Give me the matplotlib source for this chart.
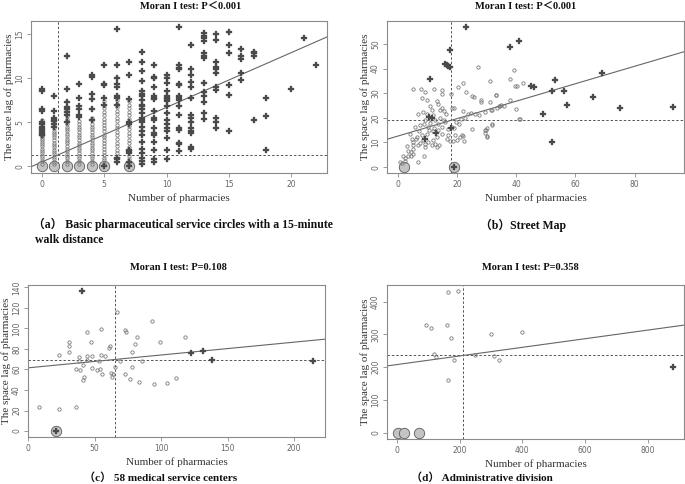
import matplotlib
matplotlib.use("Agg")
import matplotlib.pyplot as plt

SERIF = ['Liberation Serif', 'Noto Sans CJK SC']
CIRC_EDGE = '#7a7a7a'
DIAM_COL = '#4a4a4a'
BIG_FACE = '#c4c4c4'

# ---------- panel (a): 15-minute walk circles ----------
a_circ = {
    0: [0.3, 0.6, 0.9, 1.2, 1.5, 1.7, 2.0, 2.3, 2.5, 2.8, 3.0, 3.2, 3.4, 3.6, 3.9, 4.1, 4.4, 4.6, 4.9, 5.2],
    1: [0.3, 0.5, 0.8, 1.1, 1.4, 1.6, 1.9, 2.2, 2.4, 2.7, 3.0, 3.3, 3.5, 3.8, 4.0, 4.3, 4.6, 4.9],
    2: [0.3, 0.6, 0.9, 1.2, 1.4, 1.7, 2.0, 2.3, 2.6, 2.9, 3.1, 3.4, 3.7, 4.0, 4.2, 4.5, 4.8, 5.1, 5.4, 5.7, 6.0, 6.4],
    3: [0.3, 0.6, 0.9, 1.2, 1.5, 1.8, 2.1, 2.4, 2.7, 3.0, 3.3, 3.6, 3.9, 4.2, 4.5, 4.8, 5.1],
    4: [0.3, 0.6, 0.9, 1.2, 1.5, 1.8, 2.1, 2.4, 2.7, 3.0, 3.3, 3.6, 3.9, 4.2, 4.5, 4.8, 5.2, 5.5],
    5: [0.3, 0.7, 1.0, 1.3, 1.6, 2.0, 2.3, 2.6, 3.0, 3.3, 3.6, 4.0, 4.3, 4.7, 5.0, 5.4, 5.8, 6.2, 6.6, 7.0, 7.4],
    6: [1.5, 1.9, 2.3, 2.7, 3.1, 3.5, 3.9, 4.3, 4.7, 5.1, 5.5, 5.9, 6.3, 6.7, 7.1, 7.5, 8.0],
    7: [0.4, 0.8, 1.2, 2.2, 2.6, 3.0, 3.4, 3.8, 4.2, 4.6, 5.4, 5.8, 6.2, 6.6, 7.0, 7.4],
}
a_diam = {
    0: [8.8, 8.5, 6.5, 6.3, 5.0, 4.8, 4.5, 4.2, 4.0, 3.8, 3.6, 3.5],
    1: [8.0, 6.3, 5.5, 5.3, 5.1, 4.8, 4.5],
    2: [12.5, 8.8, 7.3, 6.7, 6.5, 6.2, 5.8, 5.0],
    3: [9.3, 7.7, 6.8, 6.5, 5.8, 5.6],
    4: [10.3, 10.1, 8.2, 7.6, 6.5, 5.3],
    5: [11.5, 9.3, 9.2, 7.7, 7.0, 0.0],
    6: [15.6, 11.5, 10.0, 9.3, 9.0, 8.0, 7.8, 7.0, 1.0, 0.8, 0.5],
    7: [11.8, 10.3, 7.6, 5.0, 4.8, 1.9, 1.7, 1.5, 0.5, 0.0],
    8: [13.0, 11.8, 10.8, 9.7, 8.5, 8.2, 8.0, 7.5, 7.0, 6.8, 6.5, 6.0, 5.5, 5.3, 5.0, 4.5, 4.0, 3.5, 2.8, 2.0, 1.5, 1.0, 0.6, 0.3],
    9: [11.5, 10.1, 10.0, 9.0, 8.0, 7.8, 7.6, 6.3, 5.5, 5.2, 4.3, 3.8, 3.5, 2.8, 1.8, 0.8, 0.5],
    10: [10.3, 10.0, 9.5, 8.5, 8.0, 7.8, 7.6, 7.4, 6.8, 6.0, 5.2, 4.8, 4.3, 4.0, 3.2, 1.8, 0.8],
    11: [15.8, 11.5, 11.2, 11.0, 9.3, 9.2, 8.0, 7.7, 7.5, 6.8, 5.8, 4.3, 4.1, 2.7, 2.5, 1.7],
    12: [13.8, 11.0, 10.3, 9.6, 9.0, 7.8, 5.8, 5.5, 5.0, 4.3, 4.0, 3.8, 2.2, 2.0],
    13: [15.1, 14.8, 14.5, 14.2, 12.8, 12.5, 12.3, 9.5, 8.4, 8.0, 7.3, 6.1, 5.4],
    14: [15.0, 14.3, 11.8, 11.3, 11.0, 10.6, 9.0, 8.7, 5.5, 5.0, 4.3],
    15: [15.2, 13.7, 12.8, 9.2, 8.1, 4.0],
    16: [13.3, 12.5, 12.2, 10.6, 9.8],
    17: [13.0, 12.8, 12.5, 5.2],
    18: [7.8, 5.7, 1.8],
    20: [8.8],
    21: [14.5],
    22: [11.5],
}
a_big_x = [0, 1, 2, 3, 4, 5, 7]
a_mean = (1.34, 1.32)
a_fit = (0.49, 0.62)

# ---------- panel (b): street map ----------
b_circ_x = [27.2, 39.1, 38.0, 42.2, 40.3, 22.1, 31.0, 20.2, 23.0, 5.1, 7.8, 9.1, 12.2, 15.0, 15.0, 17.8,
            25.0, 25.8, 28.1, 28.1, 31.0, 33.2, 38.0, 8.2, 9.7, 13.1, 13.7, 10.8, 14.8, 15.7, 14.2, 11.4,
            6.9, 9.9, 16.3, 18.2, 19.0, 22.1, 24.6, 26.1, 27.5, 29.5, 31.5, 34.5, 35.7, 41.3, 19.5, 21.3,
            22.7, 23.8, 9.1, 10.8, 12.5, 14.2, 15.7, 5.8, 7.4, 8.9, 10.2, 12.3, 13.7, 15.0, 17.0, 18.2,
            19.1, 19.3, 21.0, 22.1, 24.9, 29.5, 31.7, 29.5, 30.0, 4.1, 4.6, 6.3, 8.0, 9.7, 12.0, 13.1,
            14.8, 16.5, 17.6, 19.9, 21.6, 22.3, 5.0, 5.0, 5.0, 6.7, 7.4, 8.6, 9.1, 9.1, 10.2, 11.4,
            12.5, 13.1, 2.9, 3.3, 4.4, 5.2, 1.8, 2.4, 0.7, 1.5, 2.4, 3.5, 4.4, 6.9, 8.9, 39.7, 40.0,
            40.9, 33.0, 31.8, 30.1, 31.8, 33.5, 34.0, 35.0, 29.6, 30.0, 11.0, 12.0, 13.5, 16.0, 17.0,
            7.0, 8.5, 10.5, 11.8, 14.0, 6.0, 20.5, 18.5]
b_circ_y = [40.7, 39.6, 35.9, 34.1, 32.9, 34.1, 35.0, 32.5, 30.6, 31.8, 31.8, 30.5, 31.6, 31.4, 29.8, 29.5,
            28.7, 28.5, 27.1, 26.4, 26.4, 29.3, 27.4, 27.9, 27.1, 26.7, 25.7, 24.7, 24.1, 22.8, 23.0, 23.0,
            21.7, 21.7, 21.7, 24.1, 24.1, 22.8, 22.0, 21.7, 21.3, 22.4, 23.3, 24.7, 24.9, 19.5, 18.3, 19.5,
            20.1, 21.7, 19.0, 19.6, 19.0, 20.1, 19.0, 16.3, 16.9, 17.3, 16.3, 16.0, 14.9, 16.3, 15.6, 16.3,
            16.0, 12.9, 12.2, 12.6, 15.6, 15.2, 16.9, 13.8, 12.2, 13.6, 11.5, 12.2, 12.9, 13.6, 14.6, 12.2,
            13.6, 11.5, 10.6, 10.8, 12.9, 10.4, 10.2, 8.8, 7.5, 8.8, 9.8, 10.8, 9.5, 8.1, 10.2, 8.8,
            9.5, 8.1, 8.4, 6.4, 6.1, 5.4, 4.7, 3.8, 2.0, 1.6, 2.4, 4.3, 4.7, 2.0, 4.3, 33.0, 23.7,
            19.6, 29.4, 23.0, 12.5, 17.3, 24.0, 24.9, 25.0, 14.9, 15.9, 18.0, 21.0, 17.5, 18.5, 13.0,
            14.5, 22.5, 15.0, 11.0, 9.0, 11.5, 17.5, 10.5]
b_diam_x = [23, 41, 38, 17.5, 16, 16.5, 17, 17.5, 11, 45, 46, 53, 52, 56, 57, 66, 69, 75, 93, 49, 52,
            19, 10.5, 11.5, 9, 13, 18]
b_diam_y = [57, 51.3, 48.8, 47.7, 42, 41.5, 41, 40.5, 35.8, 33, 32.7, 35.2, 30.8, 31, 25.3, 28.3, 38.2,
            24, 24.2, 21.7, 10.2, 0, 20.5, 20, 11.5, 14, 16]
b_big_x = [2, 19]
b_mean = (18.0, 19.0)
b_fit = (12.6, 0.354)

# ---------- panel (c): 58 medical service centers ----------
c_circ_x = [8, 23.1, 35.9, 23.1, 30.9, 30.9, 30.9, 37.9, 37.9, 35.9, 39.2, 40.9, 40.9, 42.2, 43.9, 43.9,
            43.9, 46.9, 48.2, 48.2, 51.9, 52.9, 54.0, 55.0, 55.0, 55.7, 58.0, 60.5, 61.7, 62.2, 63.2, 64.0,
            65.0, 67.0, 69.3, 73.0, 73.5, 73.0, 76.8, 78.0, 78.0, 80.0, 82.0, 83.0, 85.3, 93.4, 94.4, 98.9,
            104.1, 110.9, 118.2]
c_circ_y = [23.3, 21.7, 23.3, 74.2, 87.2, 82.6, 76.8, 72.6, 68.7, 60.6, 59.6, 64.5, 49.3, 52.5, 73.2, 69.3,
            96.2, 86.5, 72.9, 61.9, 59.3, 68.7, 60.6, 74.2, 99.5, 55.1, 73.2, 80.7, 82.6, 56.7, 52.8, 55.7,
            62.2, 115.7, 68.0, 98.8, 96.9, 55.7, 50.9, 76.8, 62.2, 84.9, 91.7, 47.6, 68.4, 107.3, 46.0, 87.2,
            46.7, 51.5, 92.0]
c_diam_x = [40.2, 122.2, 131.2, 138.3, 214.6, 20.6]
c_diam_y = [136.7, 76.2, 78.4, 69.7, 68.4, 0]
c_big_x = [20.6]
c_mean = (65.0, 69.7)
c_fit = (61.6, 0.125)

# ---------- panel (d): administrative division ----------
d_circ_x = [163, 195, 93.7, 109.7, 158.7, 173.6, 118, 125.7, 181, 163, 301, 399, 311, 325, 248]
d_circ_y = [430.5, 432.5, 328, 321, 330, 289, 241, 231, 223, 159.5, 300.6, 308, 233, 223, 238]
d_diam_x = [880.7]
d_diam_y = [200.4]
d_big_x = [3, 21, 69]
d_mean = (212, 236)
d_fit = (208, 0.1315)


def style_axes(ax, xlim, ylim, xticks, yticks):
    ax.set_xlim(*xlim)
    ax.set_ylim(*ylim)
    ax.set_xticks(xticks)
    ax.set_yticks(yticks)
    for s in ['top', 'right', 'bottom', 'left']:
        ax.spines[s].set_color('#8a8a8a')
        ax.spines[s].set_linewidth(0.8)
    ax.tick_params(direction='out', length=3, width=0.6, colors='#8a8a8a',
                   labelsize=5.5, labelcolor='#666666', pad=2)
    for lab in ax.get_yticklabels():
        lab.set_rotation(90)
        lab.set_va('center')
    ax.set_xlabel('Number of pharmacies', family=SERIF, fontsize=8, color='#333333', labelpad=3)
    ax.set_ylabel('The space lag of pharmacies', family=SERIF, fontsize=8, color='#333333')
    ax.yaxis.label.set_va('center')
    ax.yaxis.set_label_coords(-0.075, 0.5)


def draw_panel(ax, cx, cy, dx, dy, big_x, mean, fit, xlim):
    ax.plot(big_x, [0] * len(big_x), 'o', ms=7.5, mfc=BIG_FACE, mec='#5a5a5a', mew=0.6, zorder=2)
    ax.plot(cx, cy, 'o', ms=2.4, mfc='none', mec=CIRC_EDGE, mew=0.6, zorder=3)
    ax.plot(dx, dy, 'P', ms=4.3, color=DIAM_COL, mec=DIAM_COL, mew=0.2, zorder=4)
    ax.axvline(mean[0], color='#555555', lw=0.7, ls=(0, (2.5, 2)), zorder=1)
    ax.axhline(mean[1], color='#555555', lw=0.7, ls=(0, (2.5, 2)), zorder=1)
    x0, x1 = xlim
    ax.plot([x0, x1], [fit[0] + fit[1] * x0, fit[0] + fit[1] * x1], color='#666666', lw=0.8, zorder=1)


fig = plt.figure(figsize=(6.85, 4.84), dpi=100)
W, H = 685.0, 484.0


def add_ax(l, t, r, b):
    return fig.add_axes([l / W, 1 - b / H, (r - l) / W, (b - t) / H])


# (a)
ax = add_ax(31, 21, 327, 173)
ax_x, ax_y = [], []
for k, v in a_circ.items():
    ax_x += [k] * len(v)
    ax_y += v
ad_x, ad_y = [], []
for k, v in a_diam.items():
    ad_x += [k] * len(v)
    ad_y += v
xl = (-0.86, 22.86)
draw_panel(ax, ax_x, ax_y, ad_x, ad_y, a_big_x, a_mean, a_fit, xl)
style_axes(ax, xl, (-0.75, 16.47), [0, 5, 10, 15, 20], [0, 5, 10, 15])

# (b)
ax = add_ax(387, 21, 684, 173)
xl = (-3.7, 96.7)
draw_panel(ax, b_circ_x, b_circ_y, b_diam_x, b_diam_y, b_big_x, b_mean, b_fit, xl)
style_axes(ax, xl, (-2.4, 59.3), [0, 20, 40, 60, 80], [0, 10, 20, 30, 40, 50])

# (c)
ax = add_ax(28, 285, 325, 437)
xl = (-0.2, 223.3)
draw_panel(ax, c_circ_x, c_circ_y, c_diam_x, c_diam_y, c_big_x, c_mean, c_fit, xl)
style_axes(ax, xl, (-5.8, 142.3), [0, 50, 100, 150, 200], list(range(0, 141, 20)))

# (d)
ax = add_ax(387, 285, 684, 439)
xl = (-32, 916)
draw_panel(ax, d_circ_x, d_circ_y, d_diam_x, d_diam_y, d_big_x, d_mean, d_fit, xl)
style_axes(ax, xl, (-19.4, 451), [0, 200, 400, 600, 800], [0, 100, 200, 300, 400])

# titles
title_kw = dict(family=SERIF, fontsize=7.5, fontweight='bold', ha='center', va='center', color='#111111')
fig.text(191 / W, 1 - 6 / H, 'Moran I test: P\uff1c0.001', **title_kw)
fig.text(526 / W, 1 - 6 / H, 'Moran I test: P\uff1c0.001', **title_kw)
fig.text(178 / W, 1 - 268 / H, 'Moran I test: P=0.108', **title_kw)
fig.text(530 / W, 1 - 268 / H, 'Moran I test: P=0.358', **title_kw)

# captions
cap_kw = dict(family=SERIF, fontweight='bold', va='center', color='#111111')
fig.text(33 / W, 1 - 224 / H, '\uff08a\uff09 Basic pharmaceutical service circles with a 15-minute',
         ha='left', fontsize=8.5, **cap_kw)
fig.text(35 / W, 1 - 240 / H, 'walk distance', ha='left', fontsize=8.5, **cap_kw)
fig.text(523 / W, 1 - 225 / H, '\uff08b\uff09Street Map', ha='center', fontsize=8.5, **cap_kw)
fig.text(84 / W, 1 - 478 / H, '\uff08c\uff09 58 medical service centers', ha='left', fontsize=8.0, **cap_kw)
fig.text(411 / W, 1 - 478 / H, '\uff08d\uff09 Administrative division', ha='left', fontsize=8.0, **cap_kw)

fig.savefig('out.png', dpi=100)
